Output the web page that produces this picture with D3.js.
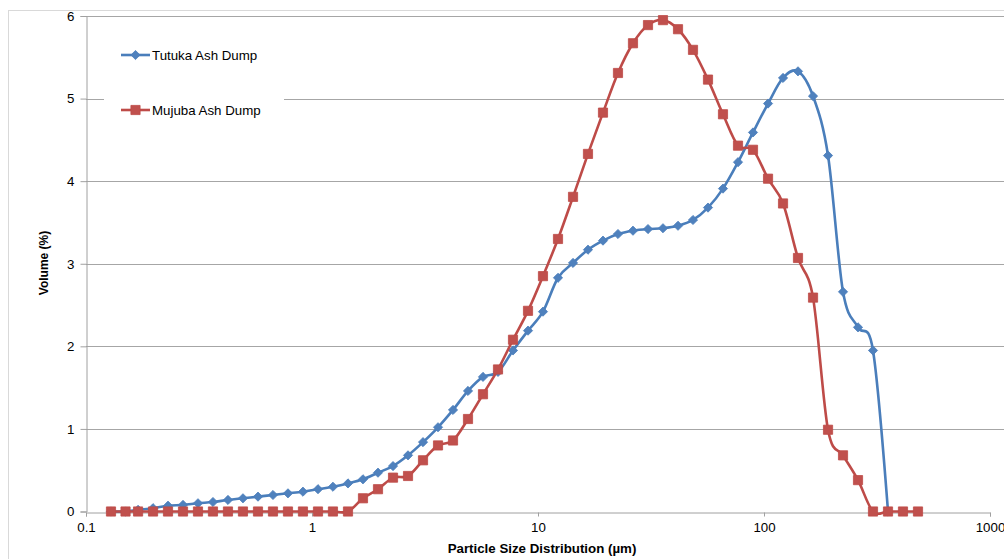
<!DOCTYPE html>
<html>
<head>
<meta charset="utf-8">
<script src="https://cdn.jsdelivr.net/npm/d3@7"></script>
<style>
  html, body { margin: 0; padding: 0; background: #fff; }
  svg { display: block; font-family: "Liberation Sans", Arial, sans-serif; }
</style>
</head>
<body>
<svg id="chart" width="1004" height="559"></svg>
<script>
// Particle size bins (µm)
const sizes = [
  0.129, 0.1496, 0.170, 0.198, 0.2306, 0.2687, 0.3130, 0.3646, 0.4248, 0.4949,
  0.5768, 0.672, 0.783, 0.912, 1.063, 1.238, 1.443, 1.681, 1.959, 2.283,
  2.660, 3.099, 3.611, 4.207, 4.901, 5.710, 6.653, 7.751, 9.032, 10.52,
  12.26, 14.29, 16.64, 19.39, 22.59, 26.32, 30.67, 35.73, 41.64, 48.51,
  56.52, 65.85, 76.74, 89.40, 104.2, 121.4, 141.4, 164.8, 192.0, 223.7,
  260.6, 303.6, 353.8, 412.1, 480.2
];

// Volume (%) per bin (Tutuka stops at the first empty coarse bin)
const tutuka = [
  0, 0, 0.02, 0.04, 0.07, 0.08, 0.10, 0.115, 0.14, 0.16,
  0.18, 0.20, 0.22, 0.24, 0.27, 0.30, 0.34, 0.39, 0.47, 0.55,
  0.68, 0.84, 1.02, 1.23, 1.46, 1.63, 1.69, 1.95, 2.19, 2.42,
  2.83, 3.01, 3.17, 3.28, 3.36, 3.40, 3.42, 3.43, 3.46, 3.53,
  3.68, 3.91, 4.23, 4.59, 4.94, 5.25, 5.33, 5.03, 4.31, 2.66,
  2.23, 1.95, 0
];
const mujuba = [
  0, 0, 0, 0, 0, 0, 0, 0, 0, 0,
  0, 0, 0, 0, 0, 0, 0, 0.16, 0.27, 0.41,
  0.43, 0.62, 0.80, 0.86, 1.12, 1.42, 1.72, 2.08, 2.43, 2.85,
  3.30, 3.81, 4.33, 4.83, 5.31, 5.67, 5.89, 5.95, 5.84, 5.59,
  5.23, 4.81, 4.43, 4.38, 4.03, 3.73, 3.07, 2.59, 0.99, 0.68,
  0.38, 0, 0, 0, 0
];

const seriesNames = ["Tutuka Ash Dump", "Mujuba Ash Dump"];
const xTicks = [0.1, 1, 10, 100, 1000];
const xTickLabels = ["0.1", "1", "10", "100", "1000"];
const yTicks = [0, 1, 2, 3, 4, 5, 6];

const svg = d3.select("#chart");
const W = 1004, H = 559;

// chart frame
svg.append("rect").attr("x", 8.5).attr("y", 10.5).attr("width", W + 10).attr("height", H + 10)
  .attr("fill", "#fff").attr("stroke", "#d9d9d9").attr("stroke-width", 1);

const x = d3.scaleLog().domain([0.1, 1000]).range([86, 990]);
const y = d3.scaleLinear().domain([0, 6]).range([511.5, 16]);

const gridColor = "#a6a6a6";
const axisColor = "#a0a0a0";

// horizontal gridlines
svg.append("g").selectAll("line").data(yTicks.filter(d => d > 0)).join("line")
  .attr("x1", x(0.1)).attr("x2", W)
  .attr("y1", d => Math.round(y(d)) + 0.5).attr("y2", d => Math.round(y(d)) + 0.5)
  .attr("stroke", gridColor).attr("stroke-width", 1);

// y axis
const yAxis = d3.axisLeft(y).tickValues(yTicks).tickSize(6).tickPadding(6).tickFormat(d3.format("d"));
const gy = svg.append("g").attr("transform", `translate(${Math.round(x(0.1)) + 0.5},0)`).call(yAxis);
gy.select(".domain").attr("stroke", axisColor);
gy.selectAll(".tick line").attr("stroke", axisColor);
gy.selectAll(".tick text").attr("fill", "#000").style("font-size", "13.3px")
  .style("font-family", "'Liberation Sans', Arial, sans-serif");

// x axis
const xAxis = d3.axisBottom(x).tickValues(xTicks).tickSize(4).tickPadding(6)
  .tickFormat((d, i) => xTickLabels[i]);
const gx = svg.append("g").attr("transform", `translate(0,${Math.round(y(0)) + 0.5})`).call(xAxis);
gx.select(".domain").attr("stroke", axisColor);
gx.selectAll(".tick line").attr("stroke", axisColor);
gx.selectAll(".tick text").attr("fill", "#000").style("font-size", "13.3px")
  .style("font-family", "'Liberation Sans', Arial, sans-serif");

// axis titles
svg.append("text").attr("x", 542).attr("y", 553).attr("text-anchor", "middle")
  .style("font-size", "13.3px").style("font-weight", "bold").text("Particle Size Distribution (µm)");
svg.append("text").attr("transform", "translate(48,263) rotate(-90)").attr("text-anchor", "middle")
  .style("font-size", "12px").style("font-weight", "bold").text("Volume (%)");

const styles = [
  { line: "#4a7ebb", fill: "#4f81bd", shape: "diamond" },
  { line: "#be4b48", fill: "#c0504d", shape: "square" }
];

function markerPath(shape) {
  if (shape === "diamond") { const r = 4.6; return `M0,${-r}L${r},0L0,${r}L${-r},0Z`; }
  const s = 4.6; return `M${-s},${-s}H${s}V${s}H${-s}Z`;
}

// smoothed series line
const line = d3.line().x(d => x(d[0])).y(d => y(d[1])).curve(d3.curveCatmullRom.alpha(0));

[tutuka, mujuba].forEach((vals, i) => {
  const pts = vals.map((v, k) => [sizes[k], v]);
  const g = svg.append("g");
  g.append("path").attr("d", line(pts)).attr("fill", "none")
    .attr("stroke", styles[i].line).attr("stroke-width", 2.6).attr("stroke-linejoin", "round");
  g.selectAll("path.m").data(pts).join("path").attr("class", "m")
    .attr("transform", d => `translate(${x(d[0])},${y(d[1])})`)
    .attr("d", markerPath(styles[i].shape))
    .attr("fill", styles[i].fill).attr("stroke", styles[i].line).attr("stroke-width", 0.8);
});

// legend
const lg = svg.append("g");
lg.append("rect").attr("x", 104).attr("y", 28).attr("width", 180).attr("height", 105).attr("fill", "#fff");
const legendY = [55, 110];
seriesNames.forEach((name, i) => {
  lg.append("line").attr("x1", 121).attr("x2", 150).attr("y1", legendY[i]).attr("y2", legendY[i])
    .attr("stroke", styles[i].line).attr("stroke-width", 2.6);
  lg.append("path").attr("transform", `translate(135.5,${legendY[i]})`).attr("d", markerPath(styles[i].shape))
    .attr("fill", styles[i].fill).attr("stroke", styles[i].line).attr("stroke-width", 0.8);
  lg.append("text").attr("x", 152).attr("y", legendY[i] + 4.5).style("font-size", "13.3px").text(name);
});
</script>
</body>
</html>
